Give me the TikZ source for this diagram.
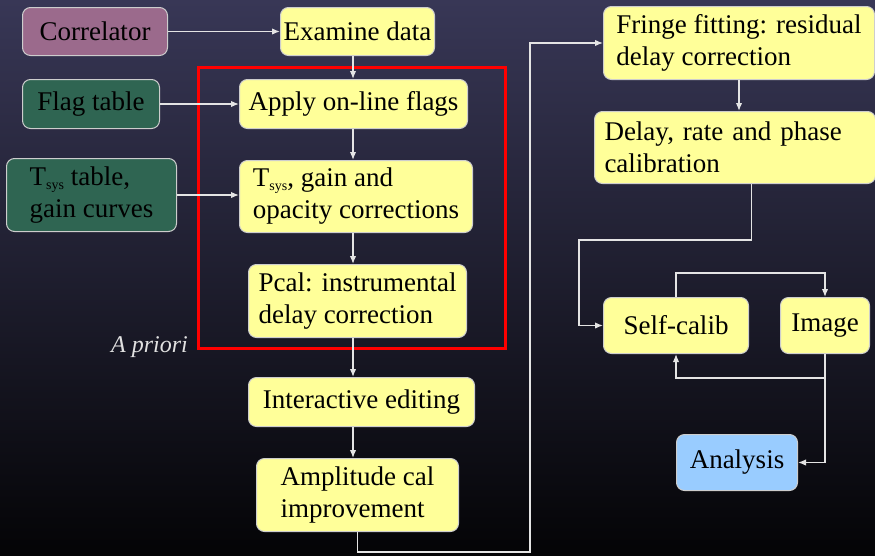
\documentclass[tikz,border=0pt]{standalone}
\usepackage{fontspec}
\setmainfont{LiberationSerif}[Extension=.ttf, UprightFont=*-Regular, ItalicFont=*-Italic, BoldFont=*-Bold]
\usetikzlibrary{arrows.meta}
\definecolor{bgtop}{RGB}{56,55,86}
\definecolor{bgbot}{RGB}{4,4,6}
\definecolor{stepyellow}{RGB}{255,255,153}
\definecolor{tablegreen}{RGB}{47,101,82}
\definecolor{corrpurple}{RGB}{155,106,140}
\definecolor{anablue}{RGB}{153,204,255}
\definecolor{wirecol}{RGB}{228,228,228}
\newcommand{\syssub}{\raisebox{-4pt}{\fontsize{14}{14}\selectfont sys}}

\begin{document}
\begin{tikzpicture}[x=1pt,y=-1pt,
    box/.style={draw={rgb,255:red,205;green,205;blue,205}, line width=1pt, rounded corners=8pt,
        anchor=north west, align=left, inner sep=0pt, text=black,
        font=\fontsize{27}{32}\selectfont},
    calstep/.style={box, fill=stepyellow},
    tablebox/.style={box, fill=tablegreen},
    wire/.style={draw=wirecol, line width=1.4pt},
    flow/.style={wire, -{Latex[length=8pt,width=6.5pt]}}]
    \useasboundingbox (0,0) rectangle (875,555);
    \fill[top color=bgtop, bottom color=bgbot] (0,0) rectangle (875,555);
    % left column
    \node[box, fill=corrpurple, minimum width=145pt, minimum height=48pt] (corr) at (22,7) {Correlator};
    \node[calstep, minimum width=154pt, minimum height=48pt] (exam) at (280,7) {Examine data};
    \node[tablebox, minimum width=137pt, minimum height=49pt] (flag) at (22,79) {Flag table};
    \node[calstep, minimum width=228pt, minimum height=49pt] (apply) at (239,79) {Apply on-line flags};
    \node[tablebox, minimum width=170pt, minimum height=73pt] (tsystab) at (6,158) {T\syssub{} table,\\gain curves};
    \node[calstep, minimum width=233pt, minimum height=72pt] (tsysgain) at (239,160) {T\syssub, gain and\\opacity corrections};
    \node[calstep, minimum width=218pt, minimum height=73pt] (pcal) at (248,264) {Pcal: instrumental\\delay correction};
    \node[calstep, minimum width=226pt, minimum height=49pt] (edit) at (248,377) {Interactive editing};
    \node[calstep, minimum width=202pt, minimum height=73pt] (amp) at (256,458) {Amplitude cal\\improvement};
    % a priori frame
    \draw[red, line width=3pt] (198,67) rectangle (505,348);
    \node[anchor=base east, inner sep=0pt, text={rgb,255:red,225;green,225;blue,225},
        font=\itshape\fontsize{24}{28}\selectfont] (apriori) at (188,352) {A priori};
    % right column
    \node[calstep, minimum width=271pt, minimum height=73pt] (fringe) at (603,6) {Fringe fitting: residual\\delay correction};
    \node[calstep, minimum height=72pt, text width=261pt, inner xsep=10pt] (delay) at (594,111) {Delay, rate and phase\\calibration};
    \node[calstep, minimum width=145pt, minimum height=56pt] (self) at (603,297) {Self-calib};
    \node[calstep, minimum width=89pt, minimum height=56pt] (image) at (780,297) {Image};
    \node[box, fill=anablue, minimum width=121pt, minimum height=56pt] (ana) at (676,434) {Analysis};
    \coordinate (spine) at (353,0);
    \coordinate (bus) at (530,552);
    \coordinate (turn) at (579,240);
    % connectors
    \draw[flow] (corr.east) -- (exam.west);
    \draw[flow] (flag.east) -- (apply.west);
    \draw[flow] (tsystab.east) -- (tsystab.east -| tsysgain.west);
    \draw[flow] (exam.south -| spine) -- (apply.north -| spine);
    \draw[flow] (apply.south -| spine) -- (tsysgain.north -| spine);
    \draw[flow] (tsysgain.south -| spine) -- (pcal.north -| spine);
    \draw[flow] (pcal.south -| spine) -- (edit.north -| spine);
    \draw[flow] (edit.south -| spine) -- (amp.north -| spine);
    \draw[flow] (amp.south) |- (bus) |- (fringe.west);
    \draw[flow] (fringe.south) -- (fringe.south |- delay.north);
    \draw[flow] (delay.south) ++(16.5,0) |- (turn) |- (self.west);
    \draw[flow] (self.north) -- ++(0,-24) -| (image.north);
    \draw[flow] (image.south) -- ++(0,24) -| (self.south);
    \draw[flow] (image.south) |- (ana.east);
\end{tikzpicture}
\end{document}
